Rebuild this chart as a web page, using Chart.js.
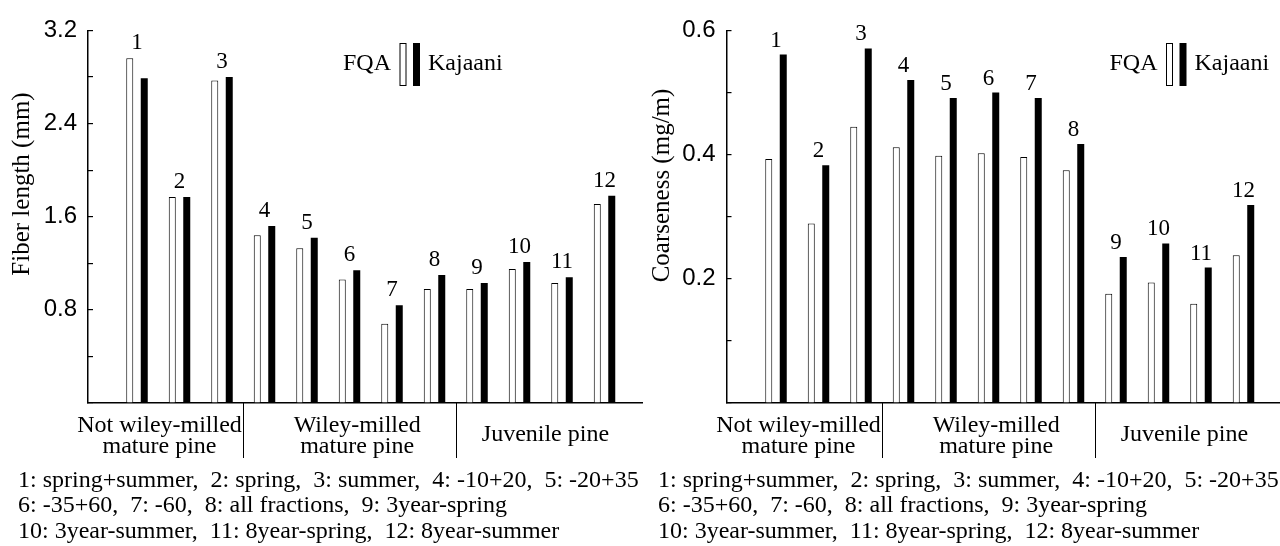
<!DOCTYPE html>
<html>
<head>
<meta charset="utf-8">
<script src="https://cdn.jsdelivr.net/npm/chart.js@4.4.1/dist/chart.umd.min.js"></script>
<style>
  html, body { margin: 0; padding: 0; background: #fff; }
  #wrap { position: relative; width: 1280px; height: 546px; overflow: hidden; }
  .panel { position: absolute; top: 0; height: 546px; }
  #fiberBox { left: 0; width: 645px; }
  #coarseBox { left: 640px; width: 640px; }
</style>
</head>
<body>
<div id="wrap">
  <div class="panel" id="fiberBox"><canvas id="fiber"></canvas></div>
  <div class="panel" id="coarseBox"><canvas id="coarse"></canvas></div>
</div>
<script>
// sample numbers 1..12 sit on a linear x scale, one unit apart
const sampleNums = [1, 2, 3, 4, 5, 6, 7, 8, 9, 10, 11, 12];

// fiber length, mm
const fiberFQA     = [2.96, 1.77, 2.77, 1.44, 1.33, 1.06, 0.68, 0.98, 0.98, 1.15, 1.03, 1.71];
const fiberKajaani = [2.79, 1.77, 2.80, 1.52, 1.42, 1.14, 0.84, 1.10, 1.03, 1.21, 1.08, 1.78];

// coarseness, mg/m
const coarseFQA     = [0.393, 0.289, 0.445, 0.412, 0.398, 0.402, 0.396, 0.375, 0.176, 0.194, 0.160, 0.238];
const coarseKajaani = [0.561, 0.383, 0.571, 0.520, 0.491, 0.500, 0.491, 0.417, 0.235, 0.257, 0.218, 0.319];

const groupNames   = [['Not wiley-milled', 'mature pine'], ['Wiley-milled', 'mature pine'], ['Juvenile pine']];
const groupCenters = [1.53, 6.18, 10.61];
const groupBreaks  = [3.5, 8.5];

const keyLines = [
  '1: spring+summer,  2: spring,  3: summer,  4: -10+20,  5: -20+35',
  '6: -35+60,  7: -60,  8: all fractions,  9: 3year-spring',
  '10: 3year-summer,  11: 8year-spring,  12: 8year-summer'
];

const SERIF = '"Liberation Serif", "Times New Roman", serif';
const SANS = '"Liberation Sans", Arial, sans-serif';

// group labels, dividers, sample numbers, key and legend
const decorations = {
  id: 'decorations',
  afterDraw(chart, args, o) {
    const ctx = chart.ctx;
    const xs = chart.scales.x, ys = chart.scales.y;
    const area = chart.chartArea;
    ctx.save();
    ctx.fillStyle = '#000';
    ctx.strokeStyle = '#000';

    // dividers under the x axis
    ctx.lineWidth = 1;
    groupBreaks.forEach(b => {
      const x = Math.round(xs.getPixelForValue(b)) + 0.5;
      ctx.beginPath();
      ctx.moveTo(x, area.bottom);
      ctx.lineTo(x, area.bottom + 55);
      ctx.stroke();
    });

    // group names
    ctx.font = '24px ' + SERIF;
    ctx.textAlign = 'center';
    ctx.textBaseline = 'alphabetic';
    groupNames.forEach((lines, g) => {
      const x = xs.getPixelForValue(groupCenters[g]);
      if (lines.length === 1) {
        ctx.fillText(lines[0], x, 441);
      } else {
        ctx.fillText(lines[0], x, 432);
        ctx.fillText(lines[1], x, 452.5);
      }
    });

    // sample numbers above each pair
    ctx.font = '23px ' + SERIF;
    sampleNums.forEach((n, i) => {
      const top = Math.max(o.fqa[i], o.kaj[i]);
      ctx.fillText(String(n), xs.getPixelForValue(n), ys.getPixelForValue(top) - o.numGap);
    });

    // legend
    const lx = o.legendX;
    ctx.font = '24px ' + SERIF;
    ctx.textAlign = 'right';
    ctx.fillText('FQA', lx - 8.5, 70);
    ctx.textAlign = 'left';
    ctx.fillText('Kajaani', lx + 28.5, 70);
    ctx.fillStyle = '#fff';
    ctx.fillRect(lx, 43, 7, 43);
    ctx.strokeRect(lx + 0.5, 43.5, 6, 42);
    ctx.fillStyle = '#000';
    ctx.fillRect(lx + 13.5, 43, 7, 43);

    // y axis title
    ctx.save();
    ctx.translate(22, o.titleY);
    ctx.rotate(-Math.PI / 2);
    ctx.font = '25px ' + SERIF;
    ctx.textAlign = 'center';
    ctx.textBaseline = 'middle';
    ctx.fillText(o.title, 0, 0);
    ctx.restore();

    // sample key
    ctx.font = '24px ' + SERIF;
    ctx.textAlign = 'left';
    [486.5, 511.5, 538].forEach((y, k) => ctx.fillText(keyLines[k], 18, y));
    ctx.restore();
  }
};

function pairs(vals) {
  return sampleNums.map((n, i) => ({ x: n, y: vals[i] }));
}

function makeChart(id, o) {
  return new Chart(document.getElementById(id), {
    type: 'bar',
    data: {
      datasets: [
        { label: 'FQA', data: pairs(o.fqa), backgroundColor: '#fff', borderColor: '#000', borderWidth: 1 },
        { label: 'Kajaani', data: pairs(o.kaj), backgroundColor: '#000', borderColor: '#000', borderWidth: 0 }
      ]
    },
    options: {
      responsive: true,
      maintainAspectRatio: false,
      animation: false,
      events: [],
      categoryPercentage: 0.682,
      barPercentage: 0.483,
      layout: { padding: { top: 21, bottom: 143, left: 0, right: o.padRight } },
      plugins: {
        legend: { display: false },
        tooltip: { enabled: false },
        decorations: o
      },
      scales: {
        x: {
          type: 'linear',
          min: o.xMin,
          max: o.xMax,
          grid: { display: false, drawTicks: false },
          ticks: { display: false },
          border: { display: true, color: '#000', width: 1.5 },
          afterBuildTicks: s => { s.ticks = []; },
          afterFit: s => { s.height = 0; }
        },
        y: {
          min: 0,
          max: o.yMax,
          grid: { drawOnChartArea: false, drawTicks: true, tickLength: -5, color: '#000', lineWidth: 1.2 },
          border: { display: true, color: '#000', width: 1.5 },
          ticks: {
            stepSize: o.yStep,
            autoSkip: false,
            padding: 16,
            color: '#000',
            font: { family: SANS, size: 24 },
            callback: v => {
              const k = Math.round(v / o.yStep);
              return (k > 0 && k % 2 === 0) ? v.toFixed(1) : '';
            }
          },
          afterFit: s => { s.width = o.axisLeft; }
        }
      }
    },
    plugins: [decorations]
  });
}

makeChart('fiber', {
  fqa: fiberFQA, kaj: fiberKajaani,
  yMax: 3.2, yStep: 0.4,
  title: 'Fiber length (mm)', titleY: 184,
  axisLeft: 88, padRight: 3,
  xMin: -0.153, xMax: 12.882,
  legendX: 399.5, numGap: 9
});

makeChart('coarse', {
  fqa: coarseFQA, kaj: coarseKajaani,
  yMax: 0.6, yStep: 0.1,
  title: 'Coarseness (mg/m)', titleY: 185.5,
  axisLeft: 86.5, padRight: 0,
  xMin: -0.165, xMax: 12.859,
  legendX: 526, numGap: 8
});
</script>
</body>
</html>
